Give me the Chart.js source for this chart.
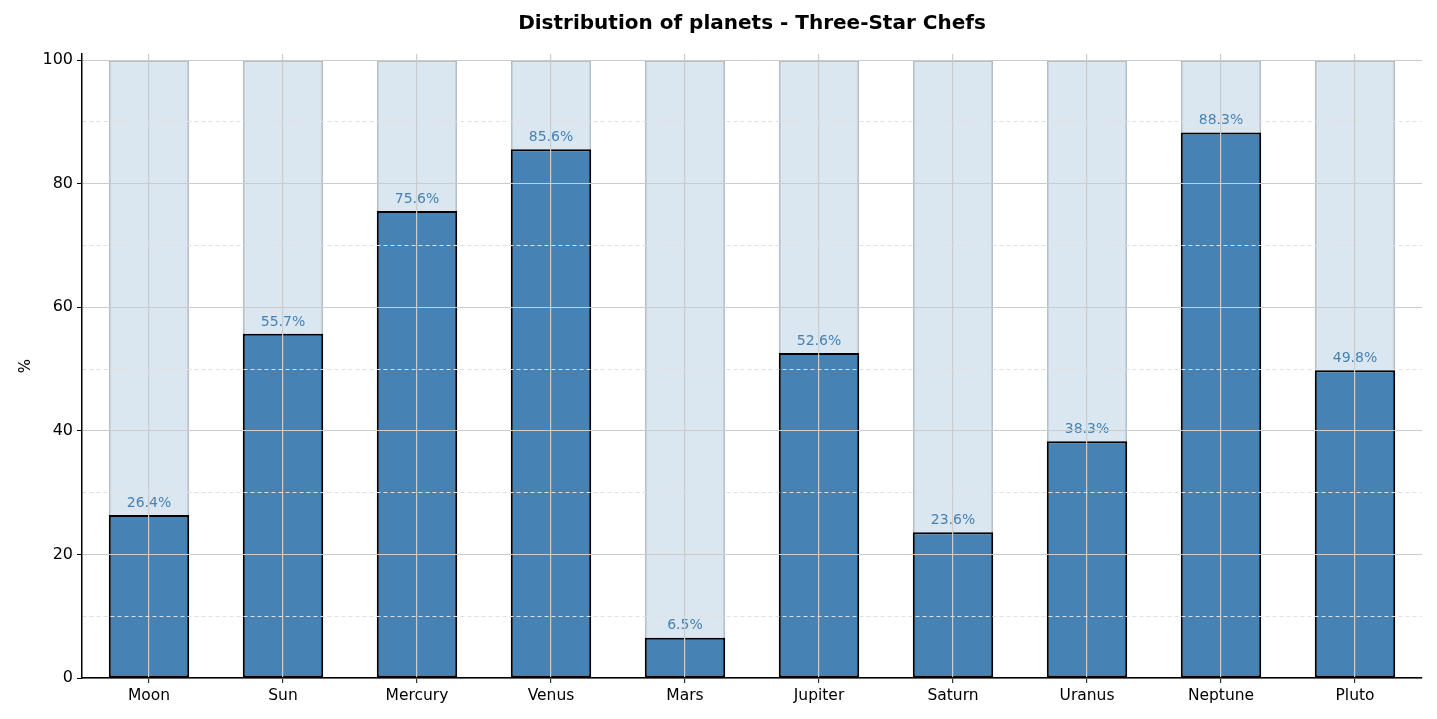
<!DOCTYPE html>
<html>
<head>
<meta charset="utf-8">
<script src="https://cdn.jsdelivr.net/npm/chart.js@4/dist/chart.umd.min.js"></script>
<style>
  html, body { margin: 0; padding: 0; background: #ffffff; }
  #wrap { width: 1437px; height: 719px; position: relative; }
</style>
</head>
<body>
<div id="wrap"><canvas id="c" width="1437" height="719"></canvas></div>
<script>
const categories = ['Moon', 'Sun', 'Mercury', 'Venus', 'Mars', 'Jupiter', 'Saturn', 'Uranus', 'Neptune', 'Pluto'];
const percentValues = [26.4, 55.7, 75.6, 85.6, 6.5, 52.6, 23.6, 38.3, 88.3, 49.8];
const fullValues = [100, 100, 100, 100, 100, 100, 100, 100, 100, 100];
const yTickValues = [0, 10, 20, 30, 40, 50, 60, 70, 80, 90, 100];
const titleText = 'Distribution of planets - Three-Star Chefs';
const yAxisTitle = '%';

const FONT = "'DejaVu Sans', 'Liberation Sans', sans-serif";
const isMajor = v => v % 20 === 0;

const valueLabels = {
  id: 'valueLabels',
  afterDatasetsDraw(chart) {
    const ctx = chart.ctx;
    const meta = chart.getDatasetMeta(0);
    ctx.save();
    ctx.font = '14px ' + FONT;
    ctx.fillStyle = '#4682b4';
    ctx.textAlign = 'center';
    ctx.textBaseline = 'bottom';
    meta.data.forEach((bar, i) => {
      ctx.fillText(percentValues[i].toFixed(1) + '%', bar.x, bar.y - 5);
    });
    ctx.restore();
  }
};

new Chart(document.getElementById('c'), {
  type: 'bar',
  data: {
    labels: categories,
    datasets: [
      {
        data: percentValues,
        backgroundColor: '#4682b4',
        borderColor: '#000000',
        borderWidth: 2,
        borderSkipped: false,
        grouped: false,
        barPercentage: 0.6,
        categoryPercentage: 1.0
      },
      {
        data: fullValues,
        backgroundColor: '#dae6f0',
        borderColor: '#b6bfc7',
        borderWidth: 2,
        borderSkipped: false,
        grouped: false,
        barPercentage: 0.6,
        categoryPercentage: 1.0
      }
    ]
  },
  options: {
    responsive: false,
    animation: false,
    devicePixelRatio: 1,
    layout: { padding: { left: 0, right: 15, top: 0, bottom: 0 } },
    plugins: {
      legend: { display: false },
      tooltip: { enabled: false },
      title: {
        display: true,
        text: titleText,
        fullSize: false,
        color: '#000000',
        font: { family: FONT, size: 20, weight: 'bold' },
        padding: { top: 12, bottom: 18 }
      }
    },
    scales: {
      x: {
        offset: true,
        afterFit: s => { s.height = 41; },
        grid: {
          z: 1,
          offset: false,
          color: '#cccccc',
          lineWidth: 1.2,
          drawTicks: true,
          tickLength: 5,
          tickColor: '#333333'
        },
        border: { display: true, color: '#000000', width: 1.5, z: 2 },
        ticks: {
          color: '#000000',
          font: { family: FONT, size: 15.5 },
          padding: 4,
          maxRotation: 0
        }
      },
      y: {
        min: 0,
        max: 101,
        afterFit: s => { s.width = 82; },
        afterBuildTicks: s => { s.ticks = yTickValues.map(v => ({ value: v })); },
        grid: {
          z: 1,
          color: ctx => (ctx.tick && isMajor(ctx.tick.value)) ? '#cccccc' : '#e0e0e0',
          lineWidth: 1,
          drawTicks: true,
          tickLength: 5,
          tickColor: ctx => (ctx.tick && isMajor(ctx.tick.value)) ? '#000000' : 'rgba(0,0,0,0)'
        },
        border: {
          display: true,
          color: '#000000',
          width: 1.5,
          z: 2,
          dash: ctx => (ctx.tick && !isMajor(ctx.tick.value)) ? [4, 3] : []
        },
        ticks: {
          color: '#000000',
          font: { family: FONT, size: 16 },
          padding: 4,
          callback: v => isMajor(v) ? String(v) : ''
        },
        title: {
          display: true,
          text: yAxisTitle,
          color: '#000000',
          font: { family: FONT, size: 15 },
          padding: { top: 17, bottom: 0 }
        }
      }
    }
  },
  plugins: [valueLabels]
});
</script>
</body>
</html>
